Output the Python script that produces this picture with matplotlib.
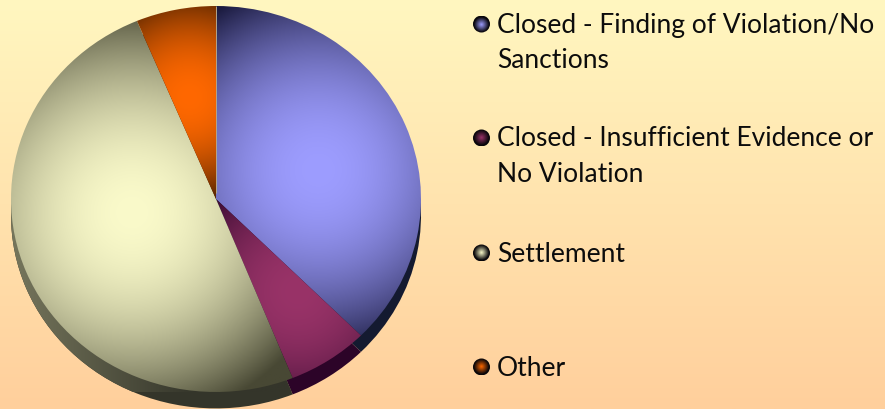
import numpy as np
import matplotlib
matplotlib.use('Agg')
import matplotlib.pyplot as plt
from matplotlib.patches import Circle

labels = ["Closed - Finding of Violation/No\nSanctions",
          "Closed - Insufficient Evidence or\nNo Violation",
          "Settlement",
          "Other"]
values = [37.5, 6.4, 49.8, 6.3]

# styling of the slices
bright = [(157, 157, 255), (153, 51, 104), (250, 250, 202), (255, 104, 0)]
dark = [(26, 26, 62), (48, 8, 44), (72, 72, 52), (84, 36, 0)]
rim = ['#141a30', '#2c0428', '#34352a', '#3a1800']
glow = [(0.50, 0.15), (0.40, -0.48), (-0.41, -0.07), (-0.13, 0.53)]
reach = [190, 130, 210, 105]
label_y = [43, 157, 255, 369]
bullet_y = [25, 139, 254, 368]

W, H = 885, 410
PIE_L, PIE_R, PIE_T, PIE_B = 11, 421, 7, 393
RX, RY = (PIE_R - PIE_L) / 2, (PIE_B - PIE_T) / 2


def shade(c0, c1, f):
    c0, c1 = np.array(c0) / 255, np.array(c1) / 255
    return c0 + (c1 - c0) * f[..., None]


fig = plt.figure(figsize=(W / 100, H / 100), dpi=100)

# page background
bg = fig.add_axes([0, 0, 1, 1])
t = np.linspace(0, 1, 256)[:, None]
bg.imshow(shade((255, 247, 192), (255, 207, 156), t), aspect='auto', extent=(0, W, H, 0))
bg.set_xlim(0, W)
bg.set_ylim(H, 0)
bg.axis('off')

# pie, axes box is the top face of the disc
ax = fig.add_axes([PIE_L / W, 1 - PIE_B / H, (PIE_R - PIE_L) / W, (PIE_B - PIE_T) / H])
ax.patch.set_alpha(0)
ax.axis('off')

side = ax.pie(values, colors=rim, startangle=90, counterclock=False, center=(0, -0.085), radius=1)[0]
top = ax.pie(values, colors=['none'] * 4, startangle=90, counterclock=False, radius=1)[0]

gx, gy = np.meshgrid(np.linspace(-1.1, 1.1, 500), np.linspace(1.1, -1.1, 500))
for w, c1, c0, g, r in zip(top, bright, dark, glow, reach):
    d = np.hypot((gx - g[0]) * RX, (gy - g[1]) * RY)
    f = np.clip(1 - (d / r) ** 2, 0, 1)
    im = ax.imshow(shade(c0, c1, f), extent=(-1.1, 1.1, -1.1, 1.1), aspect='auto',
                   interpolation='bilinear', zorder=2)
    im.set_clip_path(w)

# the side wall gets lighter towards the left
side_f = np.clip((-gx - 0.1) / 0.9, 0, 1)
im = ax.imshow(shade((52, 53, 42), (118, 118, 92), side_f),
               extent=(-1.1, 1.1, -1.1, 1.1), aspect='auto', zorder=1.5)
im.set_clip_path(side[2])

ax.plot([0, 0], [0.03, 1], color='#b3a58c', lw=0.7, zorder=3, solid_capstyle='butt')
ax.set_aspect('auto')
ax.set_xlim(-1, 1)
ax.set_ylim(-1, 1)

# legend drawn by hand, in pixel coordinates
ov = fig.add_axes([0, 0, 1, 1])
ov.patch.set_alpha(0)
ov.axis('off')
bx, by = np.meshgrid(np.linspace(-1, 1, 40), np.linspace(-1, 1, 40))
bf = np.clip(1 - np.hypot(bx, by) * 1.1, 0, 1)
for y, c1, lab, ly in zip(bullet_y, bright, labels, label_y):
    im = ov.imshow(shade((8, 6, 10), c1, bf), extent=(473, 490, y + 8.5, y - 8.5), aspect='auto')
    im.set_clip_path(Circle((481.5, y), 8.5, transform=ov.transData))
    ov.text(497, ly, lab, fontsize=19, family='Lato', color='#0c0c0c', va='center', ha='left',
            linespacing=1.55)
ov.set_xlim(0, W)
ov.set_ylim(H, 0)

fig.savefig('out.png', dpi=100)
